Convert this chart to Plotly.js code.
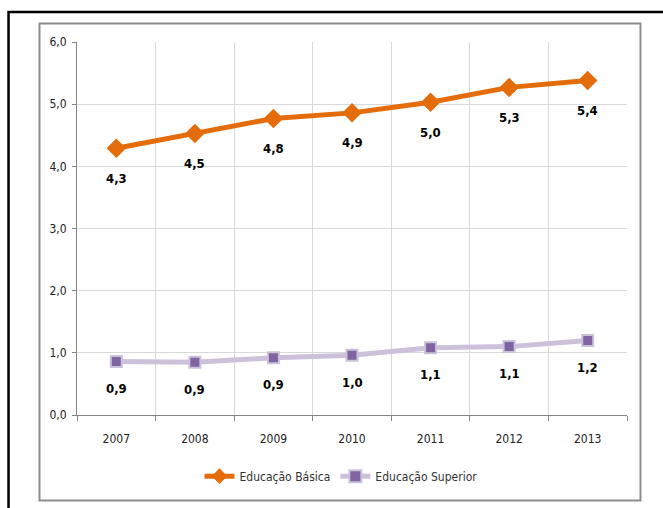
<!DOCTYPE html>
<html>
<head>
<meta charset="utf-8">
<script src="https://cdn.plot.ly/plotly-3.0.1.min.js"></script>
<style>html,body{margin:0;padding:0;background:#fff;}</style>
</head>
<body>
<div id="chart" style="width:663px;height:508px;"></div>
<script>
var years = ["2007", "2008", "2009", "2010", "2011", "2012", "2013"];
var basica = [4.29, 4.53, 4.77, 4.86, 5.03, 5.27, 5.38];
var superior = [0.86, 0.85, 0.92, 0.96, 1.08, 1.10, 1.20];
var nameBasica = "Educação Básica";
var nameSuperior = "Educação Superior";

var FONT = "'Liberation Sans Narrow', 'DejaVu Sans Condensed', 'Arial Narrow', sans-serif";

function fmt(v) { return (Math.round(v * 10) / 10).toFixed(1).replace('.', ','); }

var traces = [
  {
    x: years, y: basica, name: nameBasica, type: 'scatter', mode: 'lines+markers',
    line: {color: '#E46C0A', width: 5},
    marker: {symbol: 'diamond', size: 15, color: '#E46C0A'}
  },
  {
    x: years, y: superior, name: nameSuperior, type: 'scatter', mode: 'lines+markers',
    line: {color: '#CCC1DA', width: 5},
    marker: {symbol: 'square', size: 11, color: '#8064A2', line: {color: '#CCC1DA', width: 2}}
  }
];

var annotations = [];
years.forEach(function (yr, i) {
  annotations.push({x: i, y: basica[i], xref: 'x', yref: 'y', text: fmt(basica[i]),
    showarrow: false, yshift: -30, font: {family: FONT, size: 13, color: '#000', weight: 'bold'}});
  annotations.push({x: i, y: superior[i], xref: 'x', yref: 'y', text: fmt(superior[i]),
    showarrow: false, yshift: -27, font: {family: FONT, size: 13, color: '#000', weight: 'bold'}});
});

var layout = {
  width: 663, height: 508,
  margin: {l: 77, r: 36, t: 42, b: 93},
  paper_bgcolor: '#fff', plot_bgcolor: '#fff',
  separators: ',.',
  font: {family: FONT, size: 12, color: '#222'},
  showlegend: true,
  legend: {orientation: 'h', x: 0.48, xanchor: 'center', y: -0.164, yanchor: 'middle',
    font: {family: FONT, size: 12, color: '#333'}, itemwidth: 30, itemsizing: 'constant'},
  xaxis: {
    type: 'category', categoryorder: 'array', categoryarray: years, range: [-0.5, years.length - 0.5],
    tickson: 'boundaries', ticks: 'outside', ticklen: 5, tickcolor: '#868686', tickangle: 0,
    ticklabelstandoff: 13,
    showline: true, linecolor: '#868686', linewidth: 1,
    showgrid: true, gridcolor: '#D9D9D9', gridwidth: 1,
    tickfont: {family: FONT, size: 12, color: '#222'}, zeroline: false, fixedrange: true
  },
  yaxis: {
    range: [0, 6], dtick: 1, tickformat: '.1f', ticks: 'outside', ticklen: 4, tickcolor: '#868686',
    ticklabelstandoff: 3,
    showline: true, linecolor: '#868686', linewidth: 1,
    showgrid: true, gridcolor: '#D9D9D9', gridwidth: 1, zeroline: false,
    tickfont: {family: FONT, size: 12, color: '#222'}, fixedrange: true
  },
  annotations: annotations,
  shapes: [
    {type: 'path', xref: 'paper', yref: 'paper',
     path: 'M -0.1245 -0.3 L -0.1245 1.0804 L 1.2 1.0804',
     line: {color: '#000', width: 2.5}},
    {type: 'rect', xref: 'paper', yref: 'paper', x0: -0.0682, x1: 1.0245, y0: -0.2292, y1: 1.0496,
     line: {color: '#8C8C8C', width: 2}, fillcolor: 'rgba(0,0,0,0)'}
  ]
};

Plotly.newPlot('chart', traces, layout, {displayModeBar: false, staticPlot: true});
</script>
</body>
</html>
